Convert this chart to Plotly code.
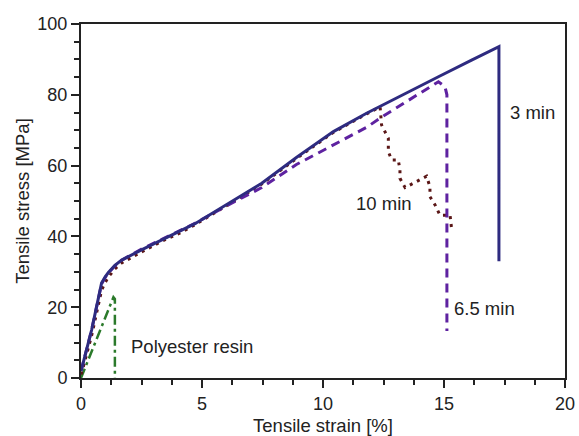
import plotly.graph_objects as go

# Tensile stress-strain curves for different cure times
strain_3min = [0, 0.05, 0.44, 0.72, 0.85, 1.0, 1.13, 1.4, 1.68, 2.5, 3.33, 4.16, 4.71, 6.09, 7.47,
               8.9, 10.43, 11.8, 12.36, 13.5, 14.77, 16.14, 17.27, 17.27]
stress_3min = [2.0, 3.2, 13.6, 23.0, 26.8, 28.6, 29.8, 31.8, 33.3, 36.2, 39.0, 41.6, 43.6, 49.3, 55.0,
               62.3, 69.6, 74.8, 76.7, 80.8, 85.1, 89.8, 93.6, 33.0]

strain_65min = [0, 0.05, 0.44, 0.72, 0.85, 1.0, 1.13, 1.4, 1.68, 2.5, 3.33, 4.16, 4.71, 6.09, 7.47,
                8.9, 10.0, 11.0, 11.8, 12.49, 13.5, 14.63, 14.77, 15.04, 15.12, 15.12]
stress_65min = [2.0, 3.2, 13.6, 23.0, 26.6, 28.4, 29.6, 31.7, 33.3, 36.4, 39.1, 41.7, 43.7, 48.9, 53.8,
                60.3, 64.2, 67.8, 70.8, 74.0, 78.3, 83.2, 83.7, 82.3, 80.0, 13.3]

strain_10min = [0, 0.05, 0.44, 0.72, 0.85, 1.0, 1.13, 1.4, 1.68, 2.5, 3.33, 4.16, 4.71, 6.09, 7.47,
                8.9, 10.43, 11.8, 12.36, 12.42, 12.70, 12.70, 12.84, 13.11, 13.18,
                13.18, 13.39, 13.73, 14.28, 14.42, 14.42, 14.63, 14.83, 15.25, 15.32]
stress_10min = [1.0, 2.0, 12.0, 21.0, 24.8, 27.0, 28.5, 30.8, 32.5, 35.6, 38.6, 41.2, 43.3, 49.0, 54.8,
                62.0, 69.4, 74.6, 76.6, 71.5, 67.7, 63.9, 61.6, 61.6, 58.8,
                56.4, 53.8, 55.0, 57.0, 54.0, 51.2, 48.9, 46.0, 46.0, 41.8]

strain_resin = [0, 1.34, 1.40, 1.40]
stress_resin = [0, 22.8, 22.3, 0]

labels = ["3 min", "10 min", "6.5 min", "Polyester resin"]
label_x = [17.65, 12.5, 15.32, 1.98]
label_y = [74.9, 49.2, 19.6, 9.0]
label_anchor = ["left", "center", "left", "left"]

FONT = "Liberation Sans, Arial, sans-serif"
TXT = "#222222"
FS = 18.5
AX = "#222222"

fig = go.Figure()
fig.add_trace(go.Scatter(x=strain_resin, y=stress_resin, mode="lines",
                         line=dict(color="#2b7a2b", width=2.5, dash="10px,4px,3px,4px")))
fig.add_trace(go.Scatter(x=strain_10min, y=stress_10min, mode="lines",
                         line=dict(color="#5a1616", width=3, dash="3px,5px")))
fig.add_trace(go.Scatter(x=strain_65min, y=stress_65min, mode="lines",
                         line=dict(color="#5e22a0", width=3, dash="9px,6px")))
fig.add_trace(go.Scatter(x=strain_3min, y=stress_3min, mode="lines",
                         line=dict(color="#2e2b80", width=3)))

for t, x, y, a in zip(labels, label_x, label_y, label_anchor):
    fig.add_annotation(x=x, y=y, text=t, showarrow=False, xanchor=a, yanchor="middle",
                       font=dict(family=FONT, size=FS, color=TXT))

axis_common = dict(
    showgrid=False, zeroline=False, showline=True, linecolor=AX, linewidth=2,
    mirror=True, ticks="outside", ticklen=8, tickwidth=2, tickcolor=AX,
    tickfont=dict(family=FONT, size=18, color=TXT), automargin=False,
)

fig.update_layout(
    width=579, height=436,
    margin=dict(l=81, r=14, t=24, b=58),
    paper_bgcolor="white", plot_bgcolor="white",
    showlegend=False,
    xaxis=dict(range=[0, 20], tick0=0, dtick=5,
               minor=dict(dtick=1.25, ticks="outside", ticklen=5, tickcolor=AX, tickwidth=2),
               title=dict(text="Tensile strain [%]", standoff=18,
                          font=dict(family=FONT, size=FS, color=TXT)),
               **axis_common),
    yaxis=dict(range=[0, 100], tick0=0, dtick=20,
               minor=dict(dtick=5, ticks="outside", ticklen=5, tickcolor=AX, tickwidth=2),
               title=dict(text="Tensile stress [MPa]", standoff=3,
                          font=dict(family=FONT, size=FS, color=TXT)),
               **axis_common),
)

fig.write_html("out.html")
